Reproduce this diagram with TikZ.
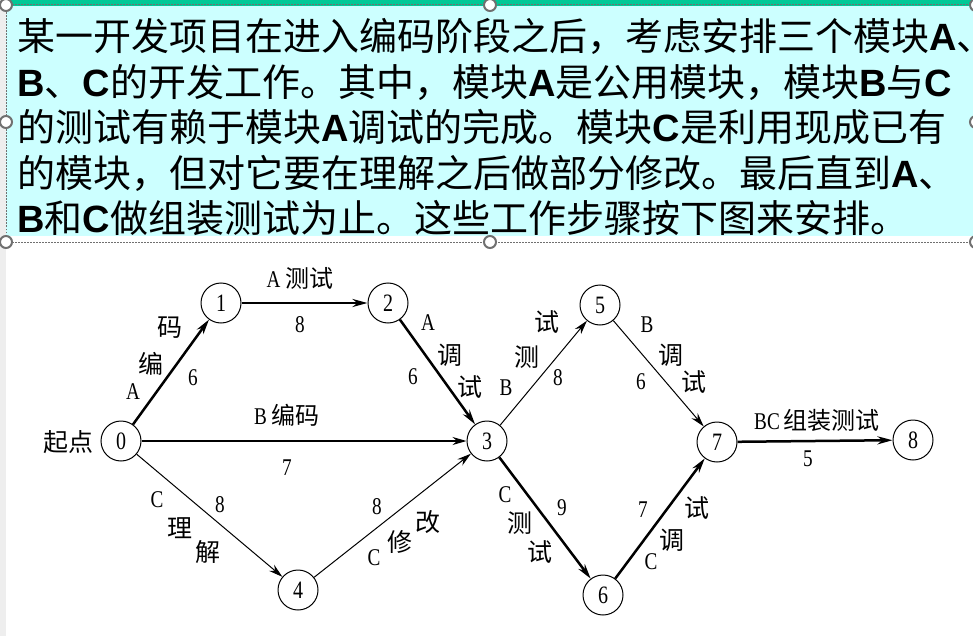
\documentclass[tikz,border=0pt]{standalone}
\usepackage{fontspec}
\setmainfont{Liberation Serif}
\newfontfamily\cjk{Noto Sans CJK SC}
\newfontfamily\hei{Liberation Sans}
\newfontfamily\lat[FakeStretch=0.8]{Liberation Serif}
\usetikzlibrary{arrows.meta}
\definecolor{topgreen}{HTML}{00C896}
\definecolor{boxcyan}{HTML}{CCFFFF}
\definecolor{handlegray}{HTML}{707070}
\definecolor{stripgray}{HTML}{EEEEEE}
\newcommand{\Zh}[1]{{\cjk #1}}
\newcommand{\LB}[1]{{\hei\bfseries #1}}
\tikzset{
  topline/.style={inner sep=0pt, anchor=base west, font=\fontsize{38}{38}\selectfont},
  stn/.style={circle, draw, line width=1pt, minimum size=40pt, inner sep=0pt, font=\lat\fontsize{25}{25}\selectfont},
  lbl/.style={inner sep=0pt, font=\lat\fontsize{24}{24}\selectfont},
  zl/.style={inner sep=0pt, font=\cjk\fontsize{25}{25}\selectfont},
  thickedge/.style={line width=2.5pt, -{Stealth[length=15pt,width=8pt]}},
  thinedge/.style={line width=1pt, -{Stealth[length=14pt,width=8pt]}},
  handle/.style={draw=handlegray, fill=white, line width=2pt},
  selborder/.style={draw=handlegray, line width=1pt, dash pattern=on 1.5pt off 1.5pt},
}
\begin{document}
\begin{tikzpicture}[x=1pt, y=-1pt]
\useasboundingbox (0,0) rectangle (973,636);
\clip (0,0) rectangle (973,636);
\fill[white] (0,0) rectangle (973,636);
\fill[stripgray] (0,0) rectangle (6,636);
\fill[topgreen] (6,0) rectangle (973,6);
\fill[boxcyan] (6,6) rectangle (973,236);
\draw[selborder] (6,242) -- (6,5) -- (973,5);
\draw[selborder] (6,242) -- (973,242);
% text
\node[topline] (t1) at (17,51) {\Zh{某一开发项目在进入编码阶段之后，考虑安排三个模块}\LB{A}\Zh{、}};
\node[topline] (t2) at (17,96.5) {\LB{B}\Zh{、}\LB{C}\Zh{的开发工作。其中，模块}\LB{A}\Zh{是公用模块，模块}\LB{B}\Zh{与}\LB{C}};
\node[topline] (t3) at (17,142) {\Zh{的测试有赖于模块}\LB{A}\Zh{调试的完成。模块}\LB{C}\Zh{是利用现成已有}};
\node[topline] (t4) at (17,187.5) {\Zh{的模块，但对它要在理解之后做部分修改。最后直到}\LB{A}\Zh{、}};
\node[topline] (t5) at (17,233) {\LB{B}\Zh{和}\LB{C}\Zh{做组装测试为止。这些工作步骤按下图来安排。}};
% handles
\foreach \hx/\hy in {6/5, 490/5, 976/5, 6/122, 976/122, 6/242, 490/242, 976/242}
  \draw[handle] (\hx,\hy) circle (6);
% network
\node[stn] (n0) at (121,441) {0};
\node[stn] (n1) at (221,303) {1};
\node[stn] (n2) at (388,303) {2};
\node[stn] (n3) at (487,441) {3};
\node[stn] (n4) at (298,590) {4};
\node[stn] (n5) at (600,305) {5};
\node[stn] (n6) at (603,595) {6};
\node[stn] (n7) at (717,442) {7};
\node[stn] (n8) at (913,440) {8};
\node[zl] (start) at (68,442) {起点};
\draw[thickedge] (n0) -- (n1);
\draw[thickedge] (n1) -- (n2);
\draw[thinedge, line width=1.3pt] (n0) -- (n3);
\draw[thickedge] (n2) -- (n3);
\draw[thinedge] (n0) -- (n4);
\draw[thinedge] (n4) -- (n3);
\draw[thinedge] (n3) -- (n5);
\draw[thickedge] (n3) -- (n6);
\draw[thinedge] (n5) -- (n7);
\draw[thickedge] (n6) -- (n7);
\draw[thickedge] (n7) -- (n8);
% labels 0-1
\node[lbl] (a01) at (133,392) {A};
\node[zl] (b01) at (151,364) {编};
\node[zl] (c01) at (170,328) {码};
\node[lbl] (d01) at (193,378) {6};
% 1-2
\node[lbl] (a12) at (300,278) {A \Zh{测试}};
\node[lbl] (d12) at (300,325) {8};
% 0-3
\node[lbl] (a03) at (287,415) {B \Zh{编码}};
\node[lbl] (d03) at (287,468) {7};
% 2-3
\node[lbl] (a23) at (428,323) {A};
\node[zl] (b23) at (450,355) {调};
\node[zl] (c23) at (470,387) {试};
\node[lbl] (d23) at (413,377) {6};
% 3-5
\node[lbl] (a35) at (506,388) {B};
\node[zl] (b35) at (527,357) {测};
\node[zl] (c35) at (547,322) {试};
\node[lbl] (d35) at (558,378) {8};
% 5-7
\node[lbl] (a57) at (647,325) {B};
\node[zl] (b57) at (671,355) {调};
\node[zl] (c57) at (694,382) {试};
\node[lbl] (d57) at (641,382) {6};
% 7-8
\node[lbl] (a78) at (817,420) {BC\,\Zh{组装测试}};
\node[lbl] (d78) at (808,459) {5};
% 0-4
\node[lbl] (a04) at (157,500) {C};
\node[zl] (b04) at (180,528) {理};
\node[zl] (c04) at (208,552) {解};
\node[lbl] (d04) at (220,505) {8};
% 4-3
\node[lbl] (d43) at (377,507) {8};
\node[lbl] (a43) at (374,558) {C};
\node[zl] (b43) at (400,542) {修};
\node[zl] (c43) at (428,522) {改};
% 3-6
\node[lbl] (a36) at (505,495) {C};
\node[zl] (b36) at (520,523) {测};
\node[zl] (c36) at (540,552) {试};
\node[lbl] (d36) at (562,508) {9};
% 6-7
\node[lbl] (d67) at (643,510) {7};
\node[lbl] (a67) at (651,562) {C};
\node[zl] (b67) at (672,540) {调};
\node[zl] (c67) at (697,508) {试};
\end{tikzpicture}
\end{document}
